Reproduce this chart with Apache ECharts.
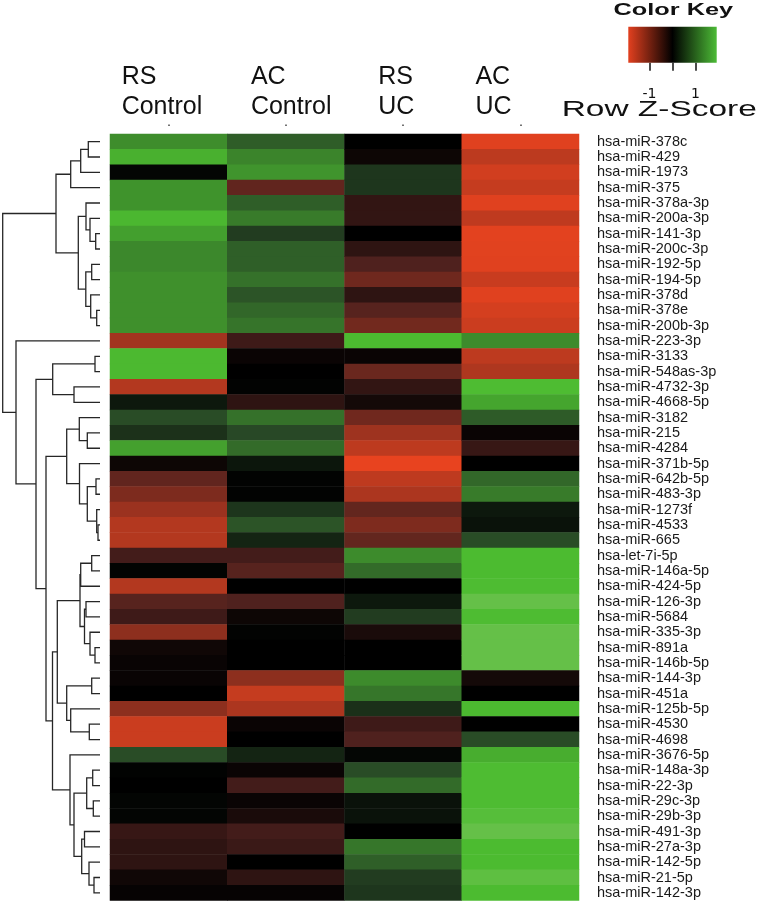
<!DOCTYPE html>
<html><head><meta charset="utf-8">
<script src="https://cdn.jsdelivr.net/npm/echarts@6/dist/echarts.min.js"></script>
<style>html,body{margin:0;padding:0;background:#fff}#c{width:760px;height:908px}</style>
</head><body><div id="c"></div>
<script>
// ---------------- data ----------------
const columns = ['RS\nControl', 'AC\nControl', 'RS\nUC', 'AC\nUC'];
const rows = ['hsa-miR-378c','hsa-miR-429','hsa-miR-1973','hsa-miR-375','hsa-miR-378a-3p','hsa-miR-200a-3p','hsa-miR-141-3p','hsa-miR-200c-3p','hsa-miR-192-5p','hsa-miR-194-5p','hsa-miR-378d','hsa-miR-378e','hsa-miR-200b-3p','hsa-miR-223-3p','hsa-miR-3133','hsa-miR-548as-3p','hsa-miR-4732-3p','hsa-miR-4668-5p','hsa-miR-3182','hsa-miR-215','hsa-miR-4284','hsa-miR-371b-5p','hsa-miR-642b-5p','hsa-miR-483-3p','hsa-miR-1273f','hsa-miR-4533','hsa-miR-665','hsa-let-7i-5p','hsa-miR-146a-5p','hsa-miR-424-5p','hsa-miR-126-3p','hsa-miR-5684','hsa-miR-335-3p','hsa-miR-891a','hsa-miR-146b-5p','hsa-miR-144-3p','hsa-miR-451a','hsa-miR-125b-5p','hsa-miR-4530','hsa-miR-4698','hsa-miR-3676-5p','hsa-miR-148a-3p','hsa-miR-22-3p','hsa-miR-29c-3p','hsa-miR-29b-3p','hsa-miR-491-3p','hsa-miR-27a-3p','hsa-miR-142-5p','hsa-miR-21-5p','hsa-miR-142-3p'];

// row z-scores, one array per column (estimated from the colours)
const rsControl = [1.2,1.5,0.05,1.25,1.25,1.57,1.36,1.16,1.16,1.22,1.22,1.22,1.22,-1.32,1.58,1.58,-1.46,0.2,0.63,0.41,1.37,-0.1,-0.76,-1.0,-1.26,-1.46,-1.46,-0.51,0.03,-1.46,-0.68,-0.48,-1.14,-0.12,-0.07,-0.07,0,-1.14,-1.66,-1.66,0.63,0.02,0,0.04,0.04,-0.42,-0.35,-0.35,-0.12,-0.05];
const acControl = [0.78,1.12,1.26,-0.76,0.79,1.04,0.5,0.8,0.8,0.96,0.7,0.87,0.98,-0.48,-0.08,0,0.02,-0.35,0.96,0.6,0.9,0.18,0.02,0.02,0.44,0.7,0.3,-0.51,-0.68,0,-0.61,-0.1,0.02,0,0,-1.14,-1.62,-1.41,-0.08,0,0.3,-0.08,-0.51,-0.08,-0.2,-0.51,-0.45,0,-0.35,-0.05];
const rsUC = [0,-0.1,0.45,0.45,-0.38,-0.38,0,-0.35,-0.61,-0.88,-0.35,-0.68,-0.91,1.6,-0.08,-0.84,-0.38,-0.15,-0.89,-1.29,-1.55,-1.92,-1.56,-1.41,-0.78,-1.01,-0.78,1.18,0.9,0,0.2,0.5,-0.2,0,0,1.18,1.0,0.4,-0.48,-0.61,0.05,0.63,0.9,0.15,0.15,0,1.0,0.8,0.5,0.45];
const acUC = [-1.85,-1.54,-1.72,-1.62,-1.85,-1.57,-1.88,-1.86,-1.85,-1.65,-1.85,-1.75,-1.67,1.18,-1.55,-1.42,1.62,1.41,0.77,-0.08,-0.42,0,0.87,1.04,0.2,0.15,0.63,1.6,1.6,1.62,1.85,1.62,1.85,1.85,1.85,-0.15,0,1.58,0,0.63,1.48,1.62,1.62,1.62,1.7,1.85,1.6,1.6,1.78,1.6];

// colour key
const keyRange = [-1.92, 1.92];
const keyTicks = [-1, 0, 1];
const keyLabels = [-1, 1];

// dendrogram merges: [upper child, lower child, height]; numbers = row index, 'mK' = merge K
const merges = [
  [0,1,11.7],['m0',2,19.3],['m1',3,29.3],[6,7,4.3],[5,'m3',10],[4,'m4',14],[8,9,8.3],[11,12,3.3],
  [10,'m7',9.3],['m6','m8',14.2],['m5','m9',21.7],['m2','m10',44],[14,15,5],[16,17,26],['m12','m13',47.3],
  [19,20,12.7],[18,'m15',20.7],[22,23,4],[25,26,2],[24,'m18',3.3],['m17','m19',12.7],[21,'m20',20.5],
  ['m16','m21',33.3],[27,28,8.3],[30,31,14],[33,34,5],[32,'m25',10],['m24','m26',15.5],['m23',29,19.3],
  ['m28','m27',20],[35,36,8.3],[38,39,10.7],[37,'m31',29.3],['m30','m32',33.3],['m29','m33',42.7],
  [41,42,7.3],[43,44,6.7],['m35','m36',13.3],[45,46,15.5],[48,49,6],[47,'m39',11],['m38','m40',18.3],
  ['m37','m41',26],[40,'m42',30],['m34','m43',47.5],['m22','m44',54],['m14','m45',64],[13,'m46',84],
  ['m11','m47',97.3]
];

// ---------------- build ----------------
const FONT = '"Liberation Sans", Arial, Helvetica, sans-serif';
const valueCols = [rsControl, acControl, rsUC, acUC];
const heatData = [];
valueCols.forEach((col, c) => col.forEach((v, r) => heatData.push([c, r, v])));

// colour ramp red - black - green (lighter at the very top)
const rampStops = [[-1.92,[232,67,31]],[-0.6,[78,33,30]],[0,[0,0,0]],[0.6,[40,72,38]],[1.6,[76,187,48]],[1.92,[108,194,78]]];
function rampColor(v){
  for (let i = 0; i < rampStops.length - 1; i++) {
    const a = rampStops[i], b = rampStops[i+1];
    if (v <= b[0] || i === rampStops.length - 2) {
      const t = Math.max(0, Math.min(1, (v - a[0]) / (b[0] - a[0])));
      const c = a[1].map((x, k) => Math.round(x + (b[1][k] - x) * t));
      return 'rgb(' + c.join(',') + ')';
    }
  }
}
const ramp = [];
for (let k = 0; k <= 96; k++) ramp.push(rampColor(keyRange[0] + k * 0.04));

// dendrogram segments
const nodeY = {}, nodeH = {};
function pos(ref){ return typeof ref === 'number' ? [0, ref + 0.5] : [nodeH[ref], nodeY[ref]]; }
const dendroLines = merges.map((m, k) => {
  const pa = pos(m[0]), pb = pos(m[1]), h = m[2];
  nodeH['m' + k] = h; nodeY['m' + k] = (pa[1] + pb[1]) / 2;
  return { coords: [[pa[0], pa[1]], [h, pa[1]], [h, pb[1]], [pb[0], pb[1]]] };
});
const rootH = merges[merges.length - 1][2];

const chart = echarts.init(document.getElementById('c'));
chart.setOption({
  animation: false,
  backgroundColor: '#fff',
  grid: [
    { left: 110, top: 134, width: 469, height: 766.5 },
    { left: 2.7, top: 134, width: 97.3, height: 766.5 },
    { left: 628.3, top: 26.7, width: 88.4, height: 36 }
  ],
  xAxis: [
    { gridIndex: 0, type: 'category', data: columns, position: 'top', offset: 8,
      axisLine: { show: false }, axisLabel: { show: false }, splitLine: { show: false },
      axisTick: { show: true, alignWithLabel: true, length: 1.5, lineStyle: { color: '#444', width: 1.5 } } },
    { gridIndex: 1, type: 'value', min: 0, max: rootH, inverse: true, show: false },
    { gridIndex: 2, type: 'value', min: keyRange[0], max: keyRange[1], position: 'bottom',
      axisLine: { show: false }, splitLine: { show: false },
      axisTick: { show: true, customValues: keyTicks, length: 8, lineStyle: { color: '#111', width: 1.5 } },
      axisLabel: { show: true, customValues: keyLabels, margin: 25, fontSize: 14, color: '#111', fontFamily: 'DejaVu Sans' } }
  ],
  yAxis: [
    { gridIndex: 0, type: 'category', data: rows, inverse: true, position: 'right',
      axisLine: { show: false }, axisTick: { show: false }, splitLine: { show: false },
      axisLabel: { interval: 0, margin: 18, fontSize: 14.5, color: '#1a1a1a', fontFamily: FONT } },
    { gridIndex: 1, type: 'value', min: 0, max: rows.length, inverse: true, show: false },
    { gridIndex: 2, type: 'value', min: 0, max: 1, show: false }
  ],
  visualMap: {
    type: 'continuous', show: false, seriesIndex: 0, dimension: 2,
    min: keyRange[0], max: keyRange[1], inRange: { color: ramp }
  },
  series: [
    { type: 'heatmap', xAxisIndex: 0, yAxisIndex: 0, data: heatData, itemStyle: { borderWidth: 0 }, silent: true },
    { type: 'lines', coordinateSystem: 'cartesian2d', xAxisIndex: 1, yAxisIndex: 1, polyline: true,
      data: dendroLines, silent: true, lineStyle: { color: '#262626', width: 1.3, opacity: 1 } },
    { type: 'custom', xAxisIndex: 2, yAxisIndex: 2, data: [[keyRange[0], keyRange[1]]], encode: { x: [0, 1] }, silent: true,
      renderItem: function (params, api) {
        const p0 = api.coord([api.value(0), 1]);
        const p1 = api.coord([api.value(1), 0]);
        return { type: 'rect', shape: { x: p0[0], y: p0[1], width: p1[0] - p0[0], height: p1[1] - p0[1] },
          style: { fill: new echarts.graphic.LinearGradient(0, 0, 1, 0, [
            { offset: 0, color: '#e2401f' }, { offset: 0.5, color: '#000' }, { offset: 1, color: '#4cbb36' }]) } };
      } }
  ]
});

// column header texts placed from the category axis centres
const headerShift = [-47, -35, -25, -45];
const graphics = [];
columns.forEach((c, i) => {
  const cx = chart.convertToPixel({ xAxisIndex: 0 }, c);
  c.split('\n').forEach((t, j) => graphics.push({
    type: 'text', x: cx + headerShift[i], y: 77.5 + 30 * j, silent: true,
    style: { text: t, font: '25px ' + FONT, fill: '#111', textAlign: 'left', textVerticalAlign: 'middle' }
  }));
});
graphics.push({ type: 'text', x: 673.3, y: 10.9, scaleX: 1.58, silent: true,
  style: { text: 'Color Key', font: 'bold 16px ' + FONT, fill: '#111', textAlign: 'center', textVerticalAlign: 'middle' } });
graphics.push({ type: 'text', x: 659.2, y: 109.5, scaleX: 1.52, silent: true,
  style: { text: 'Row Z-Score', font: '22px ' + FONT, fill: '#111', textAlign: 'center', textVerticalAlign: 'middle' } });
chart.setOption({ graphic: graphics });
</script></body></html>
